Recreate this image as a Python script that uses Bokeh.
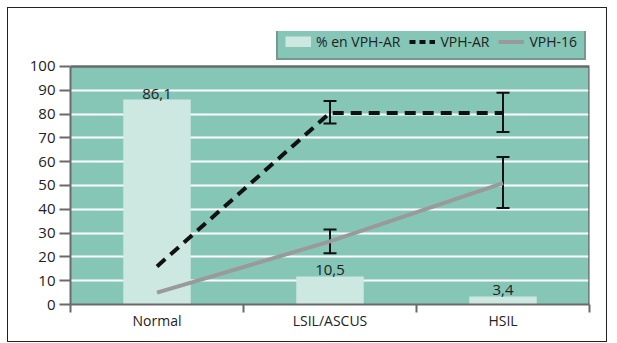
from bokeh.plotting import figure
from bokeh.models import (ColumnDataSource, Whisker, TeeHead, Legend, LegendItem,
                          FixedTicker, Range1d)
from bokeh.core.properties import value
from bokeh.embed import file_html
from bokeh.resources import INLINE

categories = ["Normal", "LSIL/ASCUS", "HSIL"]
pct_vph_ar = [86.1, 11.8, 3.4]
bar_labels = ["86,1", "10,5", "3,4"]
vph_ar = [16, 80.5, 80.5]
vph_ar_lower = [76, 72.5]
vph_ar_upper = [85.5, 89]
vph_16 = [5, 26.5, 51]
vph_16_lower = [21.5, 40.5]
vph_16_upper = [31.5, 62]
y_ticks = [0, 10, 20, 30, 40, 50, 60, 70, 80, 90, 100]

FONT = "Open Sans"
TEAL = "#85c6b7"
LIGHT = "#cce8e0"
TXT = "#222222"
AXC = "#6a6a6a"

xs = [i + 0.5 for i in range(len(categories))]
n = len(categories)
ymax = y_ticks[-1]

p = figure(width=600, height=335, output_backend="svg", toolbar_location=None,
           x_range=Range1d(0, n), y_range=Range1d(0, ymax * 1.147),
           min_border_left=62, min_border_right=19, min_border_top=23, min_border_bottom=39)
p.margin = (7, 8, 0, 7)
p.styles = {"border": "1.5px solid #222"}
p.background_fill_color = "white"
p.border_fill_color = "white"
p.outline_line_color = None

# plot area (teal) and its outline
p.quad(left=0, right=n, bottom=0, top=ymax, fill_color=TEAL, line_color=None, level="image")
p.ygrid.grid_line_color = "white"
p.ygrid.grid_line_width = 2
p.ygrid.ticker = FixedTicker(ticks=y_ticks[1:-1])
p.xgrid.visible = False
p.line(x=[0, n, n], y=[ymax, ymax, 0], line_color=AXC, line_width=2.5)

src = ColumnDataSource(dict(x=xs, v=pct_vph_ar, lab=bar_labels, ar=vph_ar, v16=vph_16))
bars = p.vbar(x="x", top="v", width=0.39, source=src, fill_color=LIGHT, line_color=None)
p.text(x="x", y="v", text="lab", source=src, text_align="center", text_baseline="alphabetic",
       y_offset=-6, text_font=value(FONT), text_font_size="15px", text_color=TXT)

l16 = p.line(x="x", y="v16", source=src, line_color="#9a9a9a", line_width=4)
lar = p.line(x="x", y="ar", source=src, line_color="#111111", line_width=4, line_dash="11 7")

# legend keys (single point -> nothing drawn in the plot)
key_bar = p.line(x=xs[:1], y=pct_vph_ar[:1], line_color=LIGHT, line_width=11, line_cap="butt")
key_ar = p.line(x=xs[:1], y=vph_ar[:1], line_color="#111111", line_width=4, line_dash="6 4")
key_16 = p.line(x=xs[:1], y=vph_16[:1], line_color="#9a9a9a", line_width=4)

wsrc_ar = ColumnDataSource(dict(x=xs[1:], lo=vph_ar_lower, hi=vph_ar_upper))
wsrc_16 = ColumnDataSource(dict(x=xs[1:], lo=vph_16_lower, hi=vph_16_upper))
for ws in (wsrc_ar, wsrc_16):
    w = Whisker(base="x", lower="lo", upper="hi", source=ws, dimension="height",
                line_color="#111111", line_width=2,
                upper_head=TeeHead(size=13, line_color="#111111", line_width=2),
                lower_head=TeeHead(size=13, line_color="#111111", line_width=2))
    p.add_layout(w)

# axes
p.yaxis.ticker = FixedTicker(ticks=y_ticks)
p.yaxis.bounds = (0, ymax)
p.yaxis.axis_line_color = AXC
p.yaxis.axis_line_width = 2
p.yaxis.major_tick_line_color = AXC
p.yaxis.major_tick_line_width = 2
p.yaxis.major_tick_out = 11
p.yaxis.major_tick_in = 0
p.yaxis.minor_tick_line_color = None
p.yaxis.major_label_standoff = 4
p.yaxis.major_label_text_font = FONT
p.yaxis.major_label_text_font_size = "15px"
p.yaxis.major_label_text_color = TXT

p.xaxis.ticker = FixedTicker(ticks=xs, minor_ticks=list(range(n + 1)))
p.xaxis.major_label_overrides = {x: c for x, c in zip(xs, categories)}
p.xaxis.axis_line_color = AXC
p.xaxis.axis_line_width = 2
p.xaxis.major_tick_line_color = None
p.xaxis.minor_tick_line_color = AXC
p.xaxis.minor_tick_line_width = 2
p.xaxis.minor_tick_out = 8
p.xaxis.minor_tick_in = 0
p.xaxis.major_label_standoff = -2
p.xaxis.major_label_text_font = FONT
p.xaxis.major_label_text_font_size = "14px"
p.xaxis.major_label_text_color = TXT

legend = Legend(items=[LegendItem(label="% en VPH-AR", renderers=[key_bar]),
                       LegendItem(label="VPH-AR", renderers=[key_ar]),
                       LegendItem(label="VPH-16", renderers=[key_16])],
                location=(206, 244), orientation="horizontal",
                background_fill_color=TEAL, background_fill_alpha=1,
                border_line_color=AXC, border_line_width=2.5,
                label_text_font=FONT, label_text_font_size="14px", label_text_color=TXT,
                glyph_width=26, glyph_height=11, label_standoff=5, spacing=9,
                padding=7, margin=0)
p.add_layout(legend)

open("out.html", "w").write(file_html(p, INLINE))
